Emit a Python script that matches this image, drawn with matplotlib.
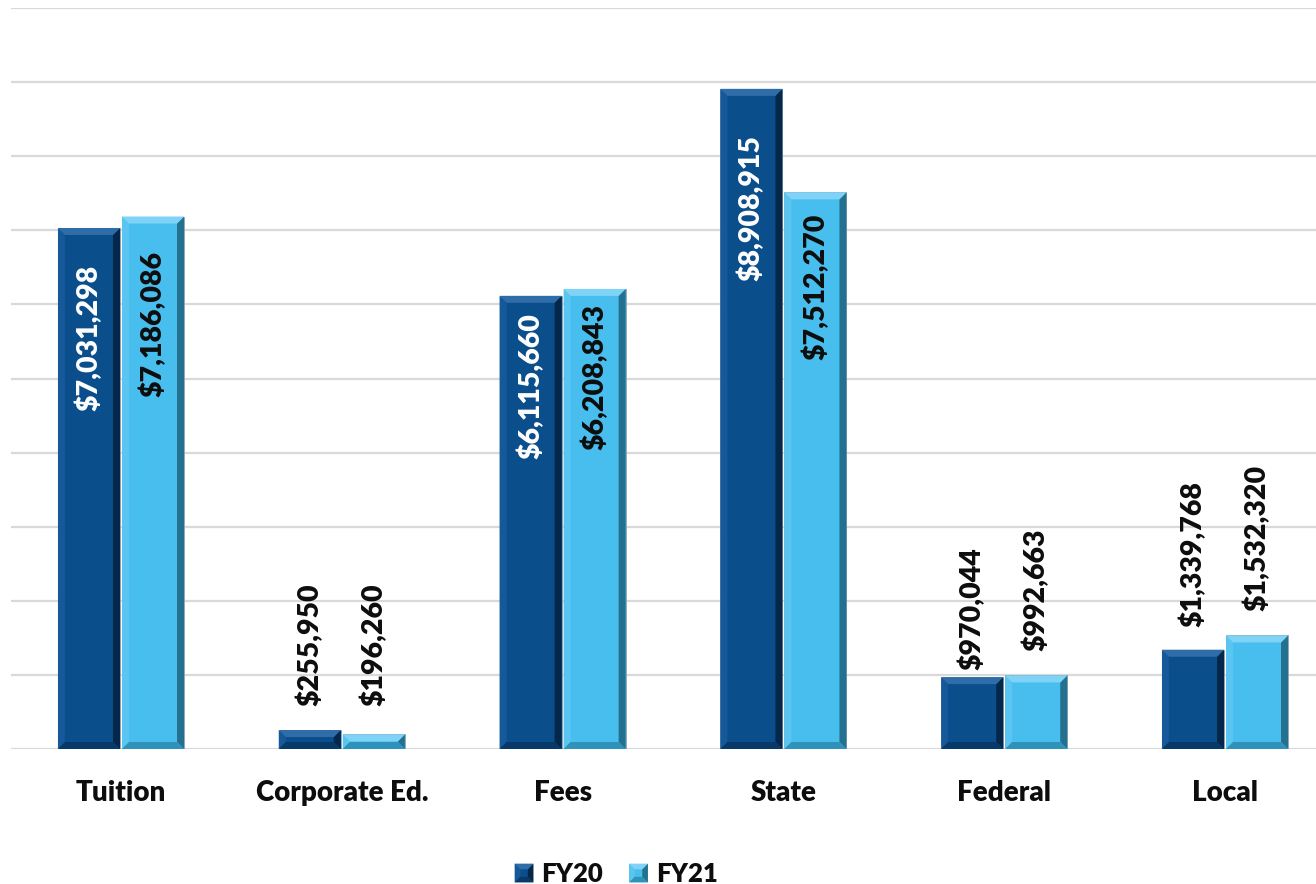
import matplotlib
matplotlib.use("Agg")
import matplotlib.pyplot as plt
import matplotlib.patches as mpatches
from matplotlib.patches import Polygon
from matplotlib.legend_handler import HandlerBase
import numpy as np

# ---- data -------------------------------------------------------------
categories = ["Tuition", "Corporate Ed.", "Fees", "State", "Federal", "Local"]
fy20 = [7031298, 255950, 6115660, 8908915, 970044, 1339768]
fy21 = [7186086, 196260, 6208843, 7512270, 992663, 1532320]
series_names = ["FY20", "FY21"]

# ---- style -------------------------------------------------------------
# distance (px) between bar top and its value label
label_gap_fy20 = [37, 24, 17, 46, 7, 23]
label_gap_fy21 = [34, 28, 15, 21, 24, 24]
inside_threshold = 3_000_000
WEIGHT = "heavy"

palettes = {
    "FY20": dict(face="#0B4E8C", top="#2E6DA8", left="#16599A", right="#05284A",
                 bottom="#083A69", text="white"),
    "FY21": dict(face="#48BEEE", top="#7ED3F6", left="#5AC5F0", right="#23708F",
                 bottom="#2E92BA", text="#0D0D0D"),
}

plt.rcParams["font.family"] = ["Lato", "DejaVu Sans"]
plt.rcParams["font.weight"] = WEIGHT

fig = plt.figure(figsize=(13.16, 8.84), dpi=100)
ax = fig.add_axes([10.6 / 1316, 135 / 884, 1324.8 / 1316, 741 / 884])

x = np.arange(len(categories))
width = 0.281
offset = 0.145

ax.set_xlim(-0.5, len(categories) - 0.5)
ax.set_ylim(0, 10_000_000)
ax.set_yticks(np.arange(0, 10_000_001, 1_000_000))
ax.set_yticklabels([])
ax.tick_params(axis="y", length=0)
ax.grid(axis="y", color="#D9D9D9", linewidth=1.6)
ax.set_axisbelow(True)
for sp in ax.spines.values():
    sp.set_visible(False)

ax.set_xticks(x)
ax.set_xticklabels(categories, fontsize=20, fontweight=WEIGHT, color="#0D0D0D")
ax.tick_params(axis="x", length=0, pad=22)

fig.canvas.draw()
p0 = ax.transData.transform((0, 0))
p1 = ax.transData.transform((1, 1_000_000))
px_x = p1[0] - p0[0]           # pixels per x unit
px_y = (p1[1] - p0[1]) / 1e6   # pixels per value unit


def bevel_bar(x0, w, h, pal, bpx=7):
    bx = min(bpx / px_x, w / 2)
    by = min(bpx / px_y, h / 2)
    faces = [
        ([(x0, 0), (x0, h), (x0 + bx, h - by), (x0 + bx, by)], pal["left"]),
        ([(x0 + w, 0), (x0 + w, h), (x0 + w - bx, h - by), (x0 + w - bx, by)], pal["right"]),
        ([(x0, 0), (x0 + w, 0), (x0 + w - bx, by), (x0 + bx, by)], pal["bottom"]),
        ([(x0, h), (x0 + w, h), (x0 + w - bx, h - by), (x0 + bx, h - by)], pal["top"]),
    ]
    for pts, col in faces:
        ax.add_patch(Polygon(pts, closed=True, facecolor=col, edgecolor="none", zorder=3))


for name, vals, gaps, sign in [("FY20", fy20, label_gap_fy20, -1),
                               ("FY21", fy21, label_gap_fy21, 1)]:
    pal = palettes[name]
    bars = ax.bar(x + sign * offset, vals, width, color=pal["face"],
                  edgecolor="#8FA3B5", linewidth=0.6, zorder=2)
    for rect, v, g in zip(bars, vals, gaps):
        bevel_bar(rect.get_x(), rect.get_width(), rect.get_height(), pal)
        cx = rect.get_x() + rect.get_width() / 2
        label = f"${v:,.0f}"
        if v > inside_threshold:
            ax.annotate(label, xy=(cx, v), xytext=(0, -g * 0.72), textcoords="offset points",
                        rotation=90, ha="center", va="top", fontsize=20.5,
                        fontweight=WEIGHT, color=pal["text"], zorder=5)
        else:
            ax.annotate(label, xy=(cx, v), xytext=(0, g * 0.72), textcoords="offset points",
                        rotation=90, ha="center", va="bottom", fontsize=20.5,
                        fontweight=WEIGHT, color="#0D0D0D", zorder=5)


class BevelHandler(HandlerBase):
    def __init__(self, pal):
        super().__init__()
        self.pal = pal

    def create_artists(self, legend, orig_handle, xdescent, ydescent, width, height,
                       fontsize, trans):
        s = min(width, height)
        x0 = -xdescent + (width - s) / 2
        y0 = -ydescent + (height - s) / 2
        b = s * 0.3
        p = self.pal
        faces = [
            ([(x0, y0), (x0 + s, y0), (x0 + s, y0 + s), (x0, y0 + s)], p["face"]),
            ([(x0, y0), (x0, y0 + s), (x0 + b, y0 + s - b), (x0 + b, y0 + b)], p["left"]),
            ([(x0 + s, y0), (x0 + s, y0 + s), (x0 + s - b, y0 + s - b), (x0 + s - b, y0 + b)], p["right"]),
            ([(x0, y0), (x0 + s, y0), (x0 + s - b, y0 + b), (x0 + b, y0 + b)], p["bottom"]),
            ([(x0, y0 + s), (x0 + s, y0 + s), (x0 + s - b, y0 + s - b), (x0 + b, y0 + s - b)], p["top"]),
        ]
        arts = []
        for pts, col in faces:
            poly = Polygon(pts, closed=True, facecolor=col, edgecolor="none", transform=trans)
            arts.append(poly)
        return arts


proxies = [mpatches.Patch(label=n) for n in series_names]
handler_map = {h: BevelHandler(palettes[n]) for h, n in zip(proxies, series_names)}
fig.legend(proxies, series_names, handler_map=handler_map, loc="center",
           bbox_to_anchor=(616 / 1316, 1 - 874 / 884), ncol=2, frameon=False,
           prop=dict(size=18.5, weight=WEIGHT), handlelength=0.75, handleheight=0.75,
           handletextpad=0.3, columnspacing=1.0, labelcolor="#0D0D0D")

fig.savefig("out.png", dpi=100)
